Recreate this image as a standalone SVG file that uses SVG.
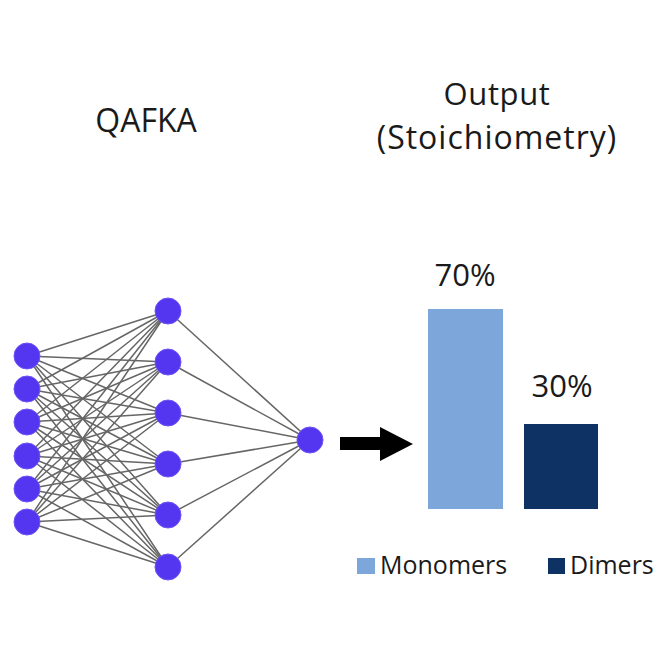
<svg xmlns="http://www.w3.org/2000/svg" width="667" height="667" viewBox="0 0 667 667">
<style>
.t{font-family:"Open Sans","Liberation Sans",sans-serif;fill:#1a1a1a;text-anchor:middle}
.e{stroke:#666666;stroke-width:1.5;fill:none}
.n{fill:#5536f0;stroke:#6a55f5;stroke-width:1}
</style>
<rect width="667" height="667" fill="#ffffff"/>
<g id="connectors">
<g class="e">
<path d="M27 356L168 311M27 356L168 362M27 356L168 413M27 356L168 464M27 356L168 515M27 356L168 567"/>
<path d="M27 389L168 311M27 389L168 362M27 389L168 413M27 389L168 464M27 389L168 515M27 389L168 567"/>
<path d="M27 422L168 311M27 422L168 362M27 422L168 413M27 422L168 464M27 422L168 515M27 422L168 567"/>
<path d="M27 456L168 311M27 456L168 362M27 456L168 413M27 456L168 464M27 456L168 515M27 456L168 567"/>
<path d="M27 489L168 311M27 489L168 362M27 489L168 413M27 489L168 464M27 489L168 515M27 489L168 567"/>
<path d="M27 522L168 311M27 522L168 362M27 522L168 413M27 522L168 464M27 522L168 515M27 522L168 567"/>
<path d="M168 311L310 440M168 362L310 440M168 413L310 440M168 464L310 440M168 515L310 440M168 567L310 440"/>
</g>
<path id="arrow" d="M340 437H380V427L413 444L380 461V450H340Z" fill="#000"/>
</g>
<g id="input-layer">
<circle class="n" cx="27" cy="356" r="13"/>
<circle class="n" cx="27" cy="389" r="13"/>
<circle class="n" cx="27" cy="422" r="13"/>
<circle class="n" cx="27" cy="456" r="13"/>
<circle class="n" cx="27" cy="489" r="13"/>
<circle class="n" cx="27" cy="522" r="13"/>
</g>
<g id="hidden-layer">
<circle class="n" cx="168" cy="311" r="13"/>
<circle class="n" cx="168" cy="362" r="13"/>
<circle class="n" cx="168" cy="413" r="13"/>
<circle class="n" cx="168" cy="464" r="13"/>
<circle class="n" cx="168" cy="515" r="13"/>
<circle class="n" cx="168" cy="567" r="13"/>
</g>
<g id="output-node">
<circle class="n" cx="310" cy="440" r="13"/>
</g>
<g id="titles">
<text class="t" x="146" y="132" font-size="32">QAFKA</text>
<text class="t" x="497" y="105" font-size="31" letter-spacing="0.6">Output</text>
<text class="t" x="497" y="149" font-size="32" letter-spacing="1">(Stoichiometry)</text>
</g>
<g id="chart">
<rect x="428" y="309" width="75" height="200" fill="#7da7db"/>
<rect x="524" y="424" width="74" height="85" fill="#0d3263"/>
<text class="t" x="465" y="286" font-size="31">70%</text>
<text class="t" x="562" y="397" font-size="31">30%</text>
</g>
<g id="legend">
<rect x="357" y="558" width="18" height="16" fill="#7da7db"/>
<text class="t" x="380" y="574" font-size="25" style="text-anchor:start">Monomers</text>
<rect x="548" y="558" width="17" height="16" fill="#0d3263"/>
<text class="t" x="570" y="574" font-size="25" style="text-anchor:start">Dimers</text>
</g>
</svg>
